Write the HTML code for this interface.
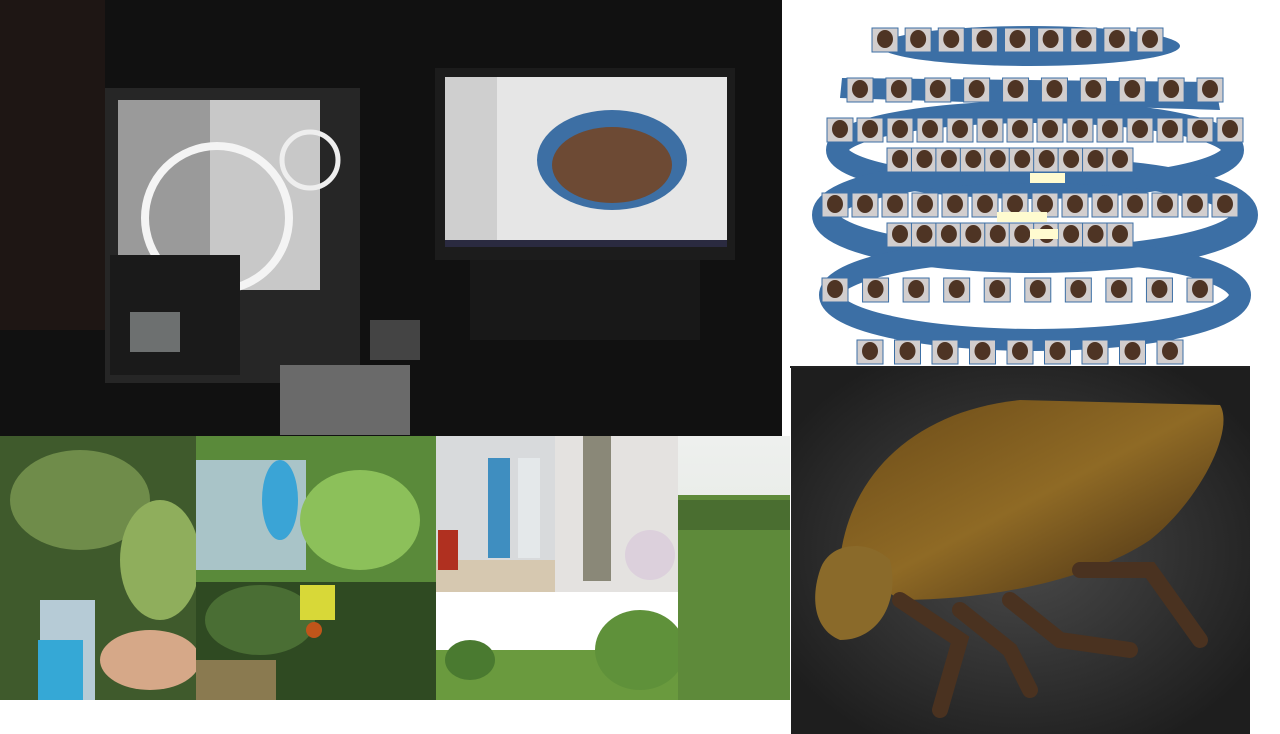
<!DOCTYPE html>
<html><head><meta charset="utf-8"><style>
html,body{margin:0;padding:0;background:#fff;width:1280px;height:734px;overflow:hidden;font-family:"Liberation Sans",sans-serif}
svg{display:block}
</style></head><body>
<svg width="1280" height="734" viewBox="0 0 1280 734">
<defs>
<radialGradient id="ins" cx="0.5" cy="0.5" r="0.6"><stop offset="0" stop-color="#4a4a4a"/><stop offset="1" stop-color="#1e1e1e"/></radialGradient>
<linearGradient id="body" x1="0" y1="0" x2="1" y2="1"><stop offset="0" stop-color="#6a4a18"/><stop offset="0.5" stop-color="#8f6a25"/><stop offset="1" stop-color="#3e2812"/></linearGradient>
<linearGradient id="sky" x1="0" y1="0" x2="0" y2="1"><stop offset="0" stop-color="#eef0ee"/><stop offset="1" stop-color="#dde3dc"/></linearGradient>
</defs>

<g>
<rect x="0" y="0" width="782" height="436" fill="#111"/>
<rect x="0" y="0" width="105" height="330" fill="#1e1614"/>
<rect x="105" y="88" width="255" height="295" fill="#262626"/>
<rect x="118" y="100" width="200" height="190" fill="#9a9a9a"/>
<rect x="210" y="100" width="110" height="190" fill="#c8c8c8"/>
<circle cx="217" cy="218" r="72" fill="none" stroke="#f4f4f4" stroke-width="8"/>
<circle cx="310" cy="160" r="28" fill="none" stroke="#eee" stroke-width="5"/>
<rect x="110" y="255" width="130" height="120" fill="#1a1a1a"/>
<rect x="130" y="312" width="50" height="40" fill="#6d7070"/>
<rect x="280" y="365" width="130" height="70" fill="#6a6a6a"/>
<rect x="370" y="320" width="50" height="40" fill="#444"/>
<rect x="435" y="68" width="300" height="192" fill="#1c1c1c"/>
<rect x="445" y="77" width="282" height="170" fill="#e6e6e6"/>
<rect x="445" y="77" width="52" height="170" fill="#cfcfcf"/>
<rect x="445" y="240" width="282" height="7" fill="#2a2a40"/>
<ellipse cx="612" cy="160" rx="75" ry="50" fill="#3d6fa4"/>
<ellipse cx="612" cy="165" rx="60" ry="38" fill="#6d4a34"/>
<rect x="470" y="260" width="230" height="80" fill="#181818"/>
</g>

<g>
<rect x="782" y="0" width="498" height="368" fill="#fff"/>
<ellipse cx="1030" cy="46" rx="150" ry="20" fill="#3c6fa5"/>
<polygon points="842,78 1215,82 1220,110 840,98" fill="#3c6fa5"/>
<ellipse cx="1035" cy="150" rx="198" ry="38" fill="none" stroke="#3c6fa5" stroke-width="22"/>
<ellipse cx="1035" cy="215" rx="210" ry="45" fill="none" stroke="#3c6fa5" stroke-width="26"/>
<ellipse cx="1035" cy="295" rx="205" ry="45" fill="none" stroke="#3c6fa5" stroke-width="22"/>
<g id="tiles"></g>
<rect x="1030" y="173" width="35" height="10" fill="#fffbd0"/>
<rect x="997" y="212" width="50" height="10" fill="#fffbd0"/>
<rect x="1030" y="229" width="28" height="10" fill="#fffbd0"/>
<rect x="790" y="366" width="460" height="2" fill="#222"/>
</g>

<g>
<rect x="791" y="368" width="459" height="366" fill="url(#ins)"/>
<path d="M840,560 C850,470 920,410 1020,400 L1220,405 C1235,430 1200,500 1150,540 C1090,580 990,600 900,600 Z" fill="url(#body)"/>
<path d="M820,570 C830,540 870,540 890,560 C900,600 880,640 840,640 C815,630 810,600 820,570 Z" fill="#8a6a2a"/>
<path d="M900,600 L960,640 L940,710 M960,610 L1010,650 L1030,690 M1010,600 L1060,640 L1130,650 M1080,570 L1150,570 L1200,640" stroke="#4a3220" stroke-width="16" fill="none" stroke-linecap="round"/>
</g>

<g>
<rect x="0" y="436" width="196" height="264" fill="#3f5a2c"/>
<ellipse cx="80" cy="500" rx="70" ry="50" fill="#6f8c4a"/>
<ellipse cx="160" cy="560" rx="40" ry="60" fill="#8fae5c"/>
<rect x="40" y="600" width="55" height="100" fill="#b6cbd6"/>
<rect x="38" y="640" width="45" height="60" fill="#35a8d6"/>
<ellipse cx="150" cy="660" rx="50" ry="30" fill="#d6a888"/>
</g>
<g>
<rect x="196" y="436" width="240" height="146" fill="#5a8a3a"/>
<rect x="196" y="460" width="110" height="110" fill="#a9c4c8"/>
<ellipse cx="280" cy="500" rx="18" ry="40" fill="#3aa4d6"/>
<ellipse cx="360" cy="520" rx="60" ry="50" fill="#8cc05a"/>
</g>
<g>
<rect x="196" y="582" width="240" height="118" fill="#2f4a22"/>
<ellipse cx="260" cy="620" rx="55" ry="35" fill="#4a6e34"/>
<rect x="300" y="585" width="35" height="35" fill="#d8d838"/>
<circle cx="314" cy="630" r="8" fill="#c0551a"/>
<rect x="196" y="660" width="80" height="40" fill="#8a7a50"/>
</g>
<g>
<rect x="436" y="436" width="119" height="156" fill="#d8dadc"/>
<rect x="436" y="560" width="119" height="32" fill="#d6c8b0"/>
<rect x="488" y="458" width="22" height="100" fill="#3f8ec0"/>
<rect x="518" y="458" width="22" height="100" fill="#e4e8ea"/>
<rect x="438" y="530" width="20" height="40" fill="#b03020"/>
</g>
<g>
<rect x="555" y="436" width="123" height="156" fill="#e4e2e0"/>
<rect x="583" y="436" width="28" height="145" fill="#8a8878"/>
<circle cx="650" cy="555" r="25" fill="#dcd0dc"/>
</g>
<g>
<rect x="436" y="592" width="242" height="108" fill="#fff"/>
<rect x="436" y="650" width="242" height="50" fill="#6a9a3e"/>
<ellipse cx="640" cy="650" rx="45" ry="40" fill="#5f913a"/>
<ellipse cx="470" cy="660" rx="25" ry="20" fill="#4a7a30"/>
</g>
<g>
<rect x="678" y="436" width="112" height="264" fill="url(#sky)"/>
<rect x="678" y="495" width="112" height="205" fill="#5e8a3a"/>
<rect x="678" y="500" width="112" height="30" fill="#4a6e30"/>
</g>
</svg>
<script>
const rows=[[40,885,1150,9],[90,860,1210,10],[130,840,1230,14],[160,900,1120,10],[205,835,1225,14],[235,900,1120,10],[290,835,1200,10],[352,870,1170,9]];
const g=document.getElementById('tiles');
rows.forEach(r=>{for(let i=0;i<r[3];i++){const x=r[1]+(r[2]-r[1])*i/(r[3]-1);
const t=document.createElementNS('http://www.w3.org/2000/svg','rect');


t.setAttribute('x',x-13);t.setAttribute('y',r[0]-12);t.setAttribute('width',26);t.setAttribute('height',24);t.setAttribute('fill','#d2cece');t.setAttribute('stroke','#3c6fa5');g.appendChild(t);
const c=document.createElementNS('http://www.w3.org/2000/svg','ellipse');


c.setAttribute('cx',x);c.setAttribute('cy',r[0]-1);c.setAttribute('rx',8);c.setAttribute('ry',9);c.setAttribute('fill','#4e3424');g.appendChild(c);}});
</script>
</body></html>
